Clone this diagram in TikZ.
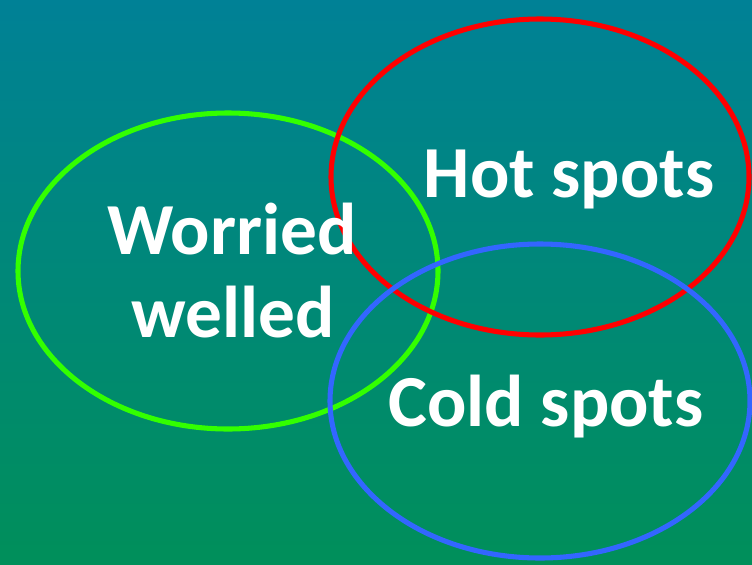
\documentclass[tikz,border=0pt]{standalone}
\usepackage{fontspec}
\setmainfont{Carlito}
\definecolor{bgtop}{RGB}{0,129,150}
\definecolor{bgbot}{RGB}{0,143,90}
\definecolor{ringgreen}{RGB}{51,255,0}
\definecolor{ringred}{RGB}{255,0,0}
\definecolor{ringblue}{RGB}{51,102,255}
\tikzset{
  ring/.style={line width=3.8pt},
  lbl/.style={text=white, font=\bfseries\fontsize{55}{66}\selectfont, anchor=base, inner sep=0pt, align=center}
}
\begin{document}
\begin{tikzpicture}[x=0.75pt,y=-0.75pt]
\shade[top color=bgtop, bottom color=bgbot] (0,0) rectangle (752,564);
\useasboundingbox (0,0) rectangle (752,564);
\draw[ring, ringgreen] (228,271) ellipse [x radius=210, y radius=158];
\draw[ring, ringred] (540,177) ellipse [x radius=209, y radius=158];
\draw[ring, ringblue] (540,401) ellipse [x radius=210, y radius=157];
\node[lbl] (hot) at (569,197) {Hot spots};
\node[lbl] (cold) at (546,426) {Cold spots};
\node[lbl] (worried) at (232,254) {Worried};
\node[lbl] (welled) at (233,337) {welled};
\end{tikzpicture}
\end{document}
